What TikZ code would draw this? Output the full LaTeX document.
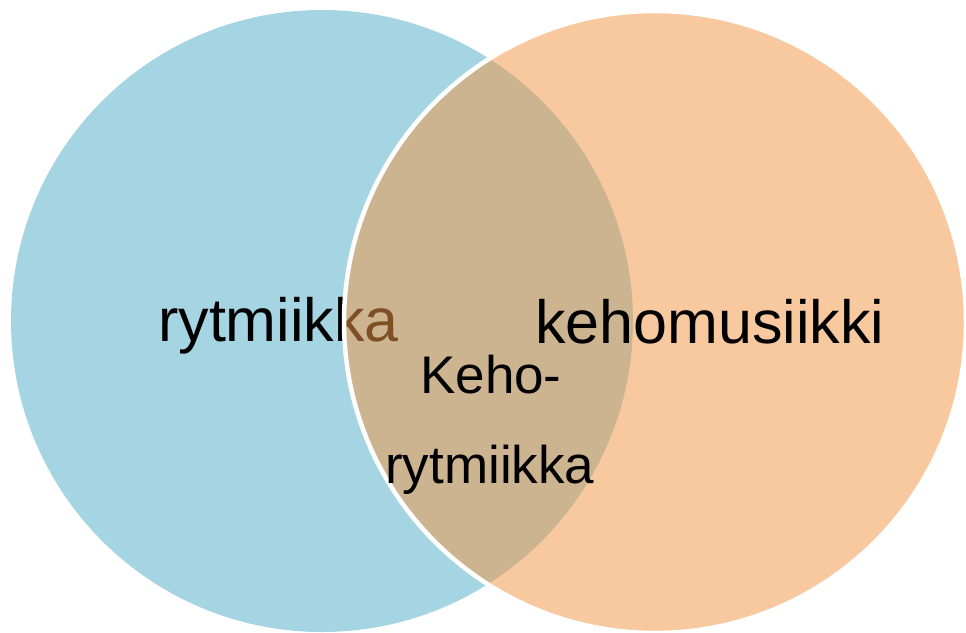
\documentclass[tikz,border=0pt]{standalone}
\usepackage{fontspec}
\setmainfont{Liberation Sans}
\definecolor{vblue}{RGB}{165,213,226}
\definecolor{vorange}{RGB}{242,150,72}
\tikzset{
  bigtxt/.style={anchor=base west, inner sep=0pt, font=\fontsize{61}{61}\selectfont},
  midtxt/.style={anchor=base west, inner sep=0pt, font=\fontsize{53}{53}\selectfont},
}
\begin{document}
\begin{tikzpicture}[x=1pt,y=-1pt]
\useasboundingbox (0,0) rectangle (966,632);
\clip (0,0) rectangle (966,632);
\fill[white] (0,0) rectangle (966,632);
\fill[vblue] (322,321) circle[radius=311];
\node[bigtxt] (lefttxt) at (158,341) {rytmiikka};
\fill[vorange, fill opacity=0.52] (655,322) circle[radius=311];
\draw[white, line width=4.5pt] (655,322) circle[radius=311];
\node[bigtxt] (righttxt) at (535,343) {kehomusiikki};
\node[midtxt] (mid1) at (420,393) {Keho-};
\node[midtxt] (mid2) at (385,483) {rytmiikka};
\end{tikzpicture}
\end{document}
